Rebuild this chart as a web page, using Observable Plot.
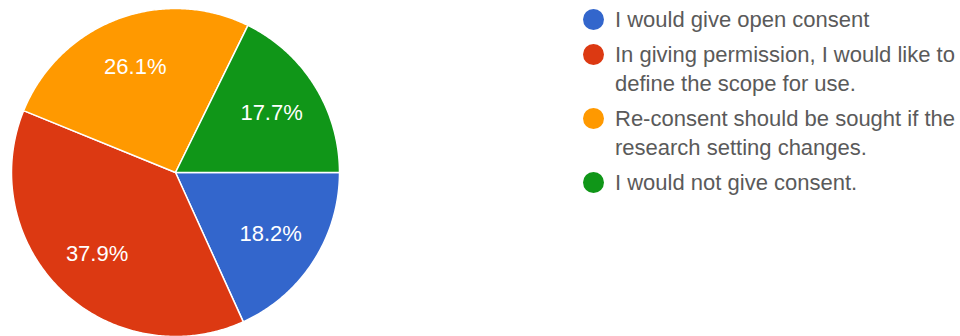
<!DOCTYPE html>
<html>
<head>
<meta charset="utf-8">
<script src="https://cdn.jsdelivr.net/npm/d3@7"></script>
<script src="https://cdn.jsdelivr.net/npm/@observablehq/plot@0.6"></script>
<style>
  html, body { margin: 0; padding: 0; background: #fff; }
  #wrap { position: relative; width: 960px; height: 336px; font-family: "Liberation Sans", Arial, sans-serif; }
  #legend { position: absolute; left: 583px; top: 4.5px; }
  .item { display: flex; align-items: flex-start; margin-bottom: 6px; }
  .dot { width: 21px; height: 21px; border-radius: 50%; margin-top: 4px; margin-right: 11px; flex: none; }
  .lbl { font-size: 22px; line-height: 29px; color: #5a5a5a; white-space: pre-line; }
</style>
</head>
<body>
<div id="wrap"><div id="chart"></div><div id="legend"></div></div>
<script>
const categories = [
  "I would give open consent",
  "In giving permission, I would like to\ndefine the scope for use.",
  "Re-consent should be sought if the\nresearch setting changes.",
  "I would not give consent."
];
const percents = [18.2, 37.9, 26.1, 17.7];
const colors = ["#3366cc", "#dc3912", "#ff9900", "#109618"];

const data = categories.map((c, i) => ({cat: c, pct: percents[i]}));
const arcs = d3.pie().value(d => d.pct).sort(null)
  .startAngle(Math.PI / 2).endAngle(Math.PI / 2 + 2 * Math.PI)(data);

// outline points of each slice (unit radius), derived from the pie angles
const points = [];
for (const a of arcs) {
  points.push({cat: a.data.cat, x: 0, y: 0});
  const n = Math.max(2, Math.ceil((a.endAngle - a.startAngle) / 0.01));
  for (let k = 0; k <= n; k++) {
    const t = a.startAngle + (a.endAngle - a.startAngle) * k / n;
    points.push({cat: a.data.cat, x: Math.sin(t), y: Math.cos(t)});
  }
  points.push({cat: a.data.cat, x: 0, y: 0});
}
const labels = arcs.map(a => {
  const m = (a.startAngle + a.endAngle) / 2;
  return {cat: a.data.cat, x: 0.69 * Math.sin(m), y: 0.69 * Math.cos(m), text: a.data.pct.toFixed(1) + "%"};
});

const R = 164, cx = 175, cy = 172, W = 960, H = 336;
const chart = Plot.plot({
  width: W, height: H, margin: 0,
  x: {domain: [-cx / R, (W - cx) / R], axis: null},
  y: {domain: [-(H - cy) / R, cy / R], axis: null},
  color: {domain: categories, range: colors},
  style: {background: "#fff"},
  marks: [
    Plot.line(points, {x: "x", y: "y", z: "cat", fill: "cat", stroke: "white", strokeWidth: 1.5, strokeLinejoin: "round"}),
    Plot.text(labels, {x: "x", y: "y", text: "text", fill: "white", fontSize: 22, fontFamily: "Liberation Sans, Arial, sans-serif"})
  ]
});
document.getElementById("chart").appendChild(chart);

const legend = document.getElementById("legend");
categories.forEach((c, i) => {
  const item = document.createElement("div");
  item.className = "item";
  const dot = document.createElement("div");
  dot.className = "dot";
  dot.style.background = colors[i];
  const lbl = document.createElement("div");
  lbl.className = "lbl";
  lbl.textContent = c;
  item.appendChild(dot);
  item.appendChild(lbl);
  legend.appendChild(item);
});
</script>
</body>
</html>
